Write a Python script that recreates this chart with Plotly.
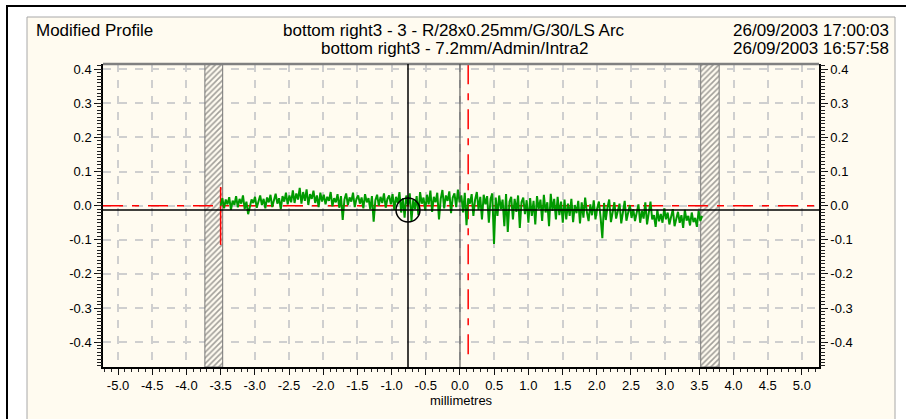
import numpy as np
import plotly.graph_objects as go

# ---------------- data ----------------
x_tick_vals = [-5.0, -4.5, -4.0, -3.5, -3.0, -2.5, -2.0, -1.5, -1.0, -0.5, 0.0,
               0.5, 1.0, 1.5, 2.0, 2.5, 3.0, 3.5, 4.0, 4.5, 5.0]
x_tick_text = ["-5.0", "-4.5", "-4.0", "-3.5", "-3.0", "-2.5", "-2.0", "-1.5", "-1.0", "-0.5", "0.0",
               "0.5", "1.0", "1.5", "2.0", "2.5", "3.0", "3.5", "4.0", "4.5", "5.0"]
y_tick_vals = [0.4, 0.3, 0.2, 0.1, 0.0, -0.1, -0.2, -0.3, -0.4]
y_tick_text = ["0.4", "0.3", "0.2", "0.1", "0.0", "-0.1", "-0.2", "-0.3", "-0.4"]

profile_x_start = -3.50
profile_x_end = 3.54
profile_y = [
    # -3.5 .. -3.0
    0.000, 0.022, -0.008, 0.018, 0.004, 0.025, -0.012, 0.015, 0.002, 0.028,
    -0.005, 0.020, 0.006, 0.030, -0.010, 0.012, -0.025, -0.004, 0.018, 0.008,
    # -3.0 .. -2.5
    0.026, -0.006, 0.016, 0.030, 0.002, 0.020, -0.008, 0.024, 0.010, 0.032,
    -0.004, 0.018, 0.035, 0.006, 0.022, -0.010, 0.028, 0.012, 0.038, 0.004,
    # -2.5 .. -2.0
    0.030, 0.010, 0.045, 0.008, 0.036, 0.018, 0.052, 0.006, 0.040, 0.014,
    0.048, 0.002, 0.034, 0.020, 0.044, 0.008, 0.030, -0.004, 0.038, 0.012,
    # -2.0 .. -1.5
    0.032, 0.004, 0.026, 0.014, 0.040, -0.002, 0.022, 0.010, 0.034, -0.006,
    0.028, -0.042, 0.018, 0.036, 0.002, 0.024, 0.012, 0.038, -0.004, 0.020,
    # -1.5 .. -1.0
    0.030, 0.006, 0.024, -0.008, 0.034, 0.010, 0.022, -0.010, 0.028, -0.047,
    0.016, 0.032, 0.000, 0.026, 0.008, 0.036, -0.006, 0.020, 0.030, 0.004,
    # -1.0 .. -0.5
    0.034, -0.012, 0.026, 0.008, 0.040, -0.020, 0.022, -0.035, 0.030, 0.002,
    0.036, -0.045, 0.018, -0.010, 0.028, -0.028, 0.040, 0.006, 0.024, -0.014,
    # -0.5 .. 0.0
    0.032, 0.004, 0.044, -0.018, 0.026, 0.010, 0.038, -0.040, 0.020, 0.046,
    -0.008, 0.030, 0.014, 0.042, -0.022, 0.024, 0.036, -0.004, 0.047, 0.010,
    # 0.0 .. 0.5
    0.030, -0.020, 0.038, -0.057, 0.022, 0.006, 0.034, -0.030, 0.018, 0.040,
    -0.012, 0.026, -0.040, 0.032, 0.004, 0.028, -0.050, 0.020, 0.036, -0.112,
    # 0.5 .. 1.0
    0.024, -0.030, 0.030, -0.010, 0.018, -0.060, 0.034, -0.077, 0.012, 0.026,
    -0.040, 0.020, -0.018, 0.030, -0.065, 0.010, 0.024, -0.025, 0.016, -0.050,
    # 1.0 .. 1.5
    0.022, -0.030, 0.014, -0.055, 0.028, -0.010, 0.018, -0.045, 0.032, -0.020,
    0.010, -0.060, 0.035, -0.015, 0.020, -0.040, 0.026, -0.028, 0.012, -0.050,
    # 1.5 .. 2.0
    0.018, -0.040, 0.006, -0.030, 0.020, -0.048, 0.002, -0.022, 0.014, -0.052,
    0.010, -0.035, 0.024, -0.018, -0.045, 0.004, -0.028, 0.016, -0.040, -0.008,
    # 2.0 .. 2.5
    0.012, -0.035, -0.095, 0.008, -0.042, -0.004, 0.018, -0.048, -0.012, 0.010,
    -0.038, -0.020, 0.006, -0.052, -0.010, 0.014, -0.044, -0.016, 0.002, -0.036,
    # 2.5 .. 3.0
    -0.010, -0.045, -0.020, 0.004, -0.050, -0.015, -0.038, 0.010, -0.055, -0.022,
    0.012, -0.040, -0.028, -0.062, -0.012, -0.046, -0.024, -0.050, -0.008, -0.040,
    # 3.0 .. 3.54
    -0.020, -0.055, -0.030, -0.010, -0.060, -0.035, -0.018, -0.050, -0.028, -0.065,
    -0.012, -0.044, -0.030, -0.058, -0.020, -0.048, -0.036, -0.062, -0.015, -0.045,
    -0.030,
]

hatch_left = [-3.73, -3.47]
hatch_right = [3.52, 3.79]
red_marker_x = -3.50
red_marker_y = [0.055, -0.115]
red_cursor_x = 0.12
red_cursor_y = [0.415, -0.445]
black_cursor_x = -0.76
black_level_y = -0.0125
center_x = 0.0

title_left = "Modified Profile"
title_line1 = "bottom right3 - 3 - R/28x0.25mm/G/30/LS Arc"
title_line2 = "bottom right3 - 7.2mm/Admin/Intra2"
date_line1 = "26/09/2003 17:00:03"
date_line2 = "26/09/2003 16:57:58"
x_title = "millimetres"

# ---------------- figure ----------------
W, H = 906, 419
ML, MR, MT, MB = 103, 87, 64, 52
PW, PH = W - ML - MR, H - MT - MB
X_RANGE = [-5.22, 5.25]
Y_RANGE = [-0.473, 0.4155]
CREAM = "#fffbf0"
FONT = "Liberation Sans, Arial, sans-serif"


def px_x(p):
    return (p - ML) / PW


def px_y(p):
    return (H - MB - p) / PH


fig = go.Figure()

# hatched bands
for band in (hatch_left, hatch_right):
    fig.add_trace(go.Scatter(
        x=[band[0], band[1], band[1], band[0], band[0]],
        y=[Y_RANGE[0], Y_RANGE[0], Y_RANGE[1], Y_RANGE[1], Y_RANGE[0]],
        mode="lines", fill="toself",
        fillcolor=CREAM,
        fillpattern=dict(shape="/", fgcolor="#444444", bgcolor=CREAM, size=4, solidity=0.4),
        line=dict(color="#777777", width=1),
        hoverinfo="skip", showlegend=False))

red_dash = "20px,9px,7px,9px"
# red dashed zero line
fig.add_trace(go.Scatter(x=X_RANGE, y=[0, 0], mode="lines",
                         line=dict(color="#ff0000", width=1.5, dash=red_dash),
                         hoverinfo="skip", showlegend=False))
# red dashed vertical cursor
fig.add_trace(go.Scatter(x=[red_cursor_x, red_cursor_x], y=red_cursor_y, mode="lines",
                         line=dict(color="#ff0000", width=1.5, dash=red_dash),
                         hoverinfo="skip", showlegend=False))
# red solid marker at profile start
fig.add_trace(go.Scatter(x=[red_marker_x, red_marker_x], y=red_marker_y, mode="lines",
                         line=dict(color="#ff0000", width=1.5),
                         hoverinfo="skip", showlegend=False))

# green profile
px = np.linspace(profile_x_start, profile_x_end, len(profile_y))
fig.add_trace(go.Scatter(x=px, y=profile_y, mode="lines",
                         line=dict(color="#009a00", width=2),
                         hoverinfo="skip", showlegend=False))

# dummy traces so the extra axes are drawn
for ax in ("y2", "y3", "y4"):
    fig.add_trace(go.Scatter(x=[0], y=[0], yaxis=ax, mode="markers",
                             marker=dict(opacity=0), hoverinfo="skip", showlegend=False))

shapes = [
    # page border (black)
    dict(type="line", xref="paper", yref="paper", x0=px_x(6), x1=px_x(906), y0=px_y(6), y1=px_y(6),
         line=dict(color="black", width=2), layer="below"),
    dict(type="line", xref="paper", yref="paper", x0=px_x(7), x1=px_x(7), y0=px_y(5), y1=px_y(425),
         line=dict(color="black", width=2), layer="below"),
    # cream panel
    dict(type="rect", xref="paper", yref="paper", x0=px_x(27), x1=px_x(895), y0=px_y(430), y1=px_y(17),
         fillcolor=CREAM, line=dict(color="#a8a8a8", width=1), layer="below"),
    # top plot border (gray)
    dict(type="line", xref="paper", yref="paper", x0=0, x1=1, y0=1, y1=1,
         line=dict(color="#808080", width=2.5)),
    # centre vertical line
    dict(type="line", xref="x", yref="paper", x0=center_x, x1=center_x, y0=0, y1=1,
         line=dict(color="#444444", width=1)),
    # black cursor vertical
    dict(type="line", xref="x", yref="paper", x0=black_cursor_x, x1=black_cursor_x, y0=0, y1=1,
         line=dict(color="black", width=1.5)),
    # black level horizontal
    dict(type="line", xref="paper", yref="y", x0=0, x1=1, y0=black_level_y, y1=black_level_y,
         line=dict(color="black", width=1.5)),
    # circle at cursor intersection
    dict(type="circle", xref="x", yref="y",
         x0=black_cursor_x - 0.175, x1=black_cursor_x + 0.175,
         y0=black_level_y - 0.0352, y1=black_level_y + 0.0352,
         line=dict(color="black", width=1.5)),
]

ann_font = dict(family=FONT, size=17, color="black")
annotations = [
    dict(text=title_left, xref="paper", yref="paper", x=px_x(34), y=px_y(31),
         xanchor="left", yanchor="middle", showarrow=False, font=ann_font),
    dict(text=title_line1, xref="paper", yref="paper", x=px_x(454), y=px_y(31),
         xanchor="center", yanchor="middle", showarrow=False, font=ann_font),
    dict(text=title_line2, xref="paper", yref="paper", x=px_x(454), y=px_y(49),
         xanchor="center", yanchor="middle", showarrow=False, font=ann_font),
    dict(text=date_line1, xref="paper", yref="paper", x=px_x(891), y=px_y(31),
         xanchor="right", yanchor="middle", showarrow=False, font=ann_font),
    dict(text=date_line2, xref="paper", yref="paper", x=px_x(891), y=px_y(49),
         xanchor="right", yanchor="middle", showarrow=False, font=ann_font),
    dict(text=x_title, xref="paper", yref="paper", x=px_x(461), y=px_y(400),
         xanchor="center", yanchor="middle", showarrow=False,
         font=dict(family=FONT, size=13, color="black")),
]

grid_col = "#cfcfcf"
tick_font = dict(family=FONT, size=13, color="black")
yaxis_common = dict(
    range=Y_RANGE, tickmode="array", tickvals=y_tick_vals, ticktext=y_tick_text,
    ticks="outside", ticklen=7, tickwidth=1, tickcolor="#111111",
    showline=True, linecolor="black", linewidth=1.5,
    zeroline=False, tickfont=tick_font, fixedrange=True,
)
ruler_common = dict(
    range=Y_RANGE, tickmode="linear", tick0=0, dtick=0.01,
    ticks="outside", ticklen=5, tickwidth=1, tickcolor="#222222",
    showticklabels=False, showgrid=False, zeroline=False,
    overlaying="y", anchor="x", fixedrange=True,
)

fig.update_layout(
    width=W, height=H, autosize=False,
    margin=dict(l=ML, r=MR, t=MT, b=MB, pad=0),
    paper_bgcolor="white", plot_bgcolor=CREAM,
    showlegend=False,
    shapes=shapes, annotations=annotations,
    xaxis=dict(
        range=X_RANGE, tickmode="array", tickvals=x_tick_vals, ticktext=x_tick_text,
        ticks="outside", ticklen=6, tickwidth=1, tickcolor="#111111",
        minor=dict(tickmode="linear", tick0=0, dtick=0.1, ticks="outside", ticklen=3,
                   tickwidth=1, tickcolor="#222222", showgrid=False),
        showgrid=True, gridcolor=grid_col, gridwidth=1.5, griddash="8px,8px",
        showline=True, linecolor="black", linewidth=1.5,
        zeroline=False, tickfont=tick_font, fixedrange=True,
    ),
    yaxis=dict(showgrid=True, gridcolor=grid_col, gridwidth=1.5, griddash="8px,8px",
               side="left", **yaxis_common),
    yaxis2=dict(overlaying="y", side="right", showgrid=False, **yaxis_common),
    yaxis3=dict(side="left", **ruler_common),
    yaxis4=dict(side="right", **ruler_common),
)

fig.write_html("out.html")
